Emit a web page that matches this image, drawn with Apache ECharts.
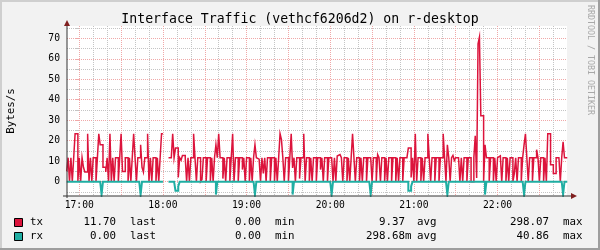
<!DOCTYPE html>
<html><head><meta charset="utf-8">
<script src="https://cdn.jsdelivr.net/npm/echarts@6/dist/echarts.min.js"></script>
<style>html,body{margin:0;padding:0;background:#f2f2f2}#c{width:600px;height:250px}</style>
</head><body><div id="c"></div>
<script>
// ---------- data ----------
const titleText = 'Interface Traffic (vethcf6206d2) on r-desktop';
const yAxisName = 'Bytes/s';
const watermark = 'RRDTOOL / TOBI OETIKER';
const xTickMinutes = [0, 60, 120, 180, 240, 300];           // minutes after 17:00
const xTickLabels = ['17:00', '18:00', '19:00', '20:00', '21:00', '22:00'];
const yTickValues = [0, 10, 20, 30, 40, 50, 60, 70];
const xRange = [-8.8, 349.8];   // minutes after 17:00
const yRange = [-7, 76];
const startMinute = -9;         // first 1-minute sample, minutes after 17:00
const tx = [
  5, 11.7, 0, 11.7, 0, 11.7, 23.4, 23.4, 0, 11.7,
  0, 11.7, 7, 4.7, 4.7, 23.4, 0, 11.7, 0, 11.7,
  11.7, 0, 11.7, 23.4, 18, 18, 7, 7, 4.7, 11.7,
  0, 23.4, 0, 11.7, 0, 11.7, 11.7, 0, 11.7, 23.4,
  5, 5, 11.7, 11.7, 0, 11.7, 0, 11.7, 23.4, 11.7,
  0, 11.7, 11.7, 18, 7, 4.7, 11.7, 11.7, 23.4, 0,
  11.7, 0, 11.7, 11.7, 0, 11.7, 0, 11.7, 23.4, null,
  null, null, null, 11.7, 11.7, 11.7, 23.4, 11.7, 16.4, 16.4,
  2, 11.7, 10.5, 12.8, 12.8, 11.7, 0, 11.7, 0, 11.7,
  11.7, 23.4, 11.7, 0, 11.7, 11.7, 0, 1, 11.7, 11.7,
  0, 11.7, 11.7, 0, 11.7, 0, 11.7, 18, 11.7, 23.4,
  11.7, 11.7, 1.5, 11.7, 0, 11.7, 11.7, 0, 11.7, 23.4,
  0, 11.7, 11.7, 0, 11.7, 11.7, 5.9, 11.7, 0, 11.7,
  11.7, 0, 11.7, 0, 11.7, 18, 11.7, 11, 11.7, 0,
  11.7, 4, 11.7, 0, 11.7, 11.7, 0, 11.7, 11.7, 0,
  11.7, 0, 11.7, 23.4, 20.5, 11.7, 0, 11.7, 11.7, 0,
  11.7, 23.4, 6.7, 11.7, 0, 11.7, 11.7, 1.5, 11.7, 11.7,
  23.4, 0, 11.7, 11.7, 0, 11.7, 0, 11.7, 11.7, 0,
  11.7, 11.7, 5.9, 11.7, 0, 11.7, 11.7, 0, 11.7, 11.7,
  11.7, 0, 11.7, 0, 12.5, 13.2, 12.5, 11.7, 0, 11.7,
  11.7, 0, 11.7, 0, 11.7, 23.4, 11.7, 0, 11.7, 11.7,
  0, 11.7, 0, 11.7, 11.7, 0, 11.7, 11.7, 11.7, 0,
  11.7, 11.7, 0, 13.2, 11.7, 0, 11.7, 11.7, 0, 11.7,
  0, 11.7, 11.7, 0, 11.7, 11.7, 0, 11.7, 0, 11.7,
  11.7, 0, 11.7, 11.7, 11.7, 16.4, 16.4, 2, 11.7, 0,
  23.4, 0, 11.7, 11.7, 0, 11.7, 0, 11.7, 11.7, 23.4,
  11.7, 0, 11.7, 11.7, 0, 11.7, 11.7, 0, 11.7, 11.7,
  23.4, 11.7, 0, 18, 11.7, 0, 11.7, 12.8, 10.4, 11.7,
  11.7, 11.7, 0, 11.7, 0, 11.7, 11.7, 0, 11.7, 11.7,
  0, 0, 11.7, 22.4, 1.8, 67.3, 70.6, 32.2, 32.2, 0,
  18, 11.7, 11.7, 0, 11.7, 11.7, 0, 11.7, 0, 11.7,
  12.6, 11.7, 0, 11.7, 11.7, 0, 11.7, 0, 11.7, 11.7,
  0, 3.9, 11.7, 0, 11.7, 11.7, 0, 11.7, 18, 23.4,
  11.7, 0, 11.7, 11.7, 0, 11.7, 11.7, 15.6, 11.7, 0,
  11.7, 11.7, 0, 11.7, 0, 23.4, 23.4, 8.3, 8.3, 4,
  4, 11.7, 11.7, 11.7, 0, 11.7, 19.5, 11.7, 11.7
];
const rx = [
  0, 0, 0, 0, 0, 0, 0, 0, 0, 0,
  0, 0, 0, 0, 0, 0, 0, 0, 0, 0,
  0, 0, 0, 0, 0, -6.3, 0, 0, 0, 0,
  0, 0, 0, 0, 0, 0, 0, 0, 0, 0,
  0, 0, 0, 0, 0, 0, 0, 0, 0, 0,
  0, 0, 0, -6.3, 0, 0, 0, 0, 0, 0,
  0, 0, 0, 0, 0, 0, 0, 0, 0, null,
  null, null, null, 0, 0, 0, 0, 0, -4.4, -4.4,
  -2.3, 0, 0, 0, 0, 0, 0, 0, 0, 0,
  0, 0, 0, 0, 0, 0, 0, 0, 0, 0,
  0, 0, 0, 0, 0, 0, 0, -6.3, 0, 0,
  0, 0, 0, 0, 0, 0, 0, 0, 0, 0,
  0, 0, 0, 0, 0, 0, 0, 0, 0, 0,
  0, 0, 0, 0, 0, -6.3, 0, 0, 0, 0,
  0, 0, 0, 0, 0, 0, 0, 0, 0, 0,
  0, 0, 0, 0, 0, 0, 0, 0, 0, 0,
  0, 0, -6.3, 0, 0, 0, 0, 0, 0, 0,
  0, 0, 0, 0, 0, 0, 0, 0, 0, 0,
  0, 0, 0, 0, 0, 0, 0, 0, 0, 0,
  -6.3, 0, 0, 0, 0, 0, 0, 0, 0, 0,
  0, 0, 0, 0, 0, 0, 0, 0, 0, 0,
  0, 0, 0, 0, 0, 0, 0, 0, -6.3, 0,
  0, 0, 0, 0, 0, 0, 0, 0, 0, 0,
  0, 0, 0, 0, 0, 0, 0, 0, 0, 0,
  0, 0, 0, 0, 0, -4.4, -4.4, -2.3, 0, 0,
  0, 0, 0, 0, 0, 0, 0, 0, 0, 0,
  0, 0, 0, 0, 0, 0, 0, 0, 0, 0,
  0, 0, 0, -6.3, 0, 0, 0, 0, 0, 0,
  0, 0, 0, 0, 0, 0, 0, 0, 0, 0,
  0, 0, 0, 0, 0, 0, 0, 0, 0, 0,
  -6.3, 0, 0, 0, 0, 0, 0, 0, 0, 0,
  0, 0, 0, 0, 0, 0, 0, 0, 0, 0,
  0, 0, 0, 0, 0, 0, 0, 0, -6.3, 0,
  0, 0, 0, 0, 0, 0, 0, 0, 0, 0,
  0, 0, 0, 0, 0, 0, 0, 0, 0, 0,
  0, 0, 0, 0, 0, 0, -6.3, 0, 0
];
const legendNames = ['tx', 'rx'];
const legendLast = ['11.70', '0.00'];
const legendMin = ['0.00', '0.00'];
const legendAvg = ['9.37', '298.68m'];
const legendMax = ['298.07', '40.86'];

// ---------- style ----------
const MONO = "'DejaVu Sans Mono', monospace";
const TX_COLOR = '#dc143c', RX_COLOR = '#20aea3';
const MINOR_GRID = '#c4c4c4', MAJOR_GRID = '#f0a8a8';
const AXIS_COLOR = '#333333', ARROW_COLOR = '#801f1f';

// each 1-minute sample holds its value until the next minute (RRD style steps)
function buildStep(values) {
  const pts = [];
  for (let i = 0; i < values.length; i++) {
    const m = startMinute + i, v = values[i];
    if (v === null) { pts.push([m, null]); continue; }
    pts.push([m, v], [m + 1, v]);
  }
  return pts;
}
const minorX = [], majorX = [], minorY = [], majorY = [];
for (let m = 0; m <= xRange[1]; m += 10) (m % 30 ? minorX : majorX).push(m);
for (let v = -5; v <= yRange[1]; v += 5) (v % 10 ? minorY : majorY).push(v);

const gridLine = (c) => ({ show: true, lineStyle: { color: c, width: 1, type: [1, 1] } });
const xBase = { type: 'value', min: xRange[0], max: xRange[1], position: 'bottom',
  axisLine: { show: false }, axisLabel: { show: false } };
const yBase = { type: 'value', min: yRange[0], max: yRange[1], position: 'left',
  axisLine: { show: false } };

const chart = echarts.init(document.getElementById('c'), null, { renderer: 'canvas' });
chart.setOption({
  animation: false,
  backgroundColor: '#f2f2f2',
  grid: { left: 67, right: 33, top: 26, bottom: 54, show: true, backgroundColor: '#ffffff',
          borderWidth: 0, containLabel: false, outerBoundsMode: 'none' },
  xAxis: [
    Object.assign({}, xBase, {
      axisTick: { show: false, customValues: xTickMinutes },
      axisLabel: { show: true, customValues: xTickMinutes, margin: 4, color: '#000',
        fontFamily: MONO, fontSize: 9.7,
        formatter: v => xTickLabels[xTickMinutes.indexOf(v)] },
      splitLine: { show: false } }),
    Object.assign({}, xBase, { axisTick: { show: false, customValues: minorX }, splitLine: gridLine(MINOR_GRID) }),
    Object.assign({}, xBase, { axisTick: { show: false, customValues: majorX }, splitLine: gridLine(MAJOR_GRID) })
  ],
  yAxis: [
    Object.assign({}, yBase, {
      axisTick: { show: true, length: 4, customValues: majorY, lineStyle: { color: MAJOR_GRID } },
      axisLabel: { show: true, customValues: yTickValues, margin: 7, color: '#000', fontFamily: MONO, fontSize: 9.7 },
      splitLine: gridLine(MAJOR_GRID) }),
    Object.assign({}, yBase, {
      axisTick: { show: true, length: 4, customValues: minorY, lineStyle: { color: MINOR_GRID } },
      axisLabel: { show: false }, splitLine: gridLine(MINOR_GRID) })
  ],
  series: [
    { name: 'tx', type: 'line', data: buildStep(tx), symbol: 'none', showSymbol: false,
      connectNulls: false, lineStyle: { color: TX_COLOR, width: 1.5, join: 'miter' }, z: 2 },
    { name: 'rx', type: 'line', data: buildStep(rx), symbol: 'none', showSymbol: false,
      connectNulls: false, lineStyle: { color: RX_COLOR, width: 2, join: 'miter' }, z: 3 }
  ]
});

// ---------- decorations derived from the axes ----------
const p0 = chart.convertToPixel({ xAxisIndex: 0, yAxisIndex: 0 }, [xRange[0], yRange[0]]);
const p1 = chart.convertToPixel({ xAxisIndex: 0, yAxisIndex: 0 }, [xRange[1], yRange[1]]);
const ax = Math.round(p0[0]), ay = Math.round(p0[1]), rxp = Math.round(p1[0]), ty = Math.round(p1[1]);
const txt = (text, x, y, size, align, color, extra) => Object.assign({
  type: 'text', x: x, y: y, z: 100,
  style: { text: text, font: size + 'px ' + MONO, fill: color || '#000',
           align: align, textAlign: align, verticalAlign: 'middle', textVerticalAlign: 'middle' }
}, extra || {});
const g = [
  { type: 'rect', shape: { x: 0, y: 0, width: 600, height: 2 }, style: { fill: '#cfcfcf' }, z: 100 },
  { type: 'rect', shape: { x: 0, y: 0, width: 2, height: 250 }, style: { fill: '#cfcfcf' }, z: 100 },
  { type: 'rect', shape: { x: 0, y: 248, width: 600, height: 2 }, style: { fill: '#9e9e9e' }, z: 100 },
  { type: 'rect', shape: { x: 598, y: 0, width: 2, height: 250 }, style: { fill: '#9e9e9e' }, z: 100 },
  { type: 'line', shape: { x1: ax, y1: ay + 2, x2: ax, y2: ty }, style: { stroke: AXIS_COLOR, lineWidth: 1 }, z: 100 },
  { type: 'line', shape: { x1: ax - 4, y1: ay, x2: rxp + 4, y2: ay }, style: { stroke: AXIS_COLOR, lineWidth: 1 }, z: 100 },
  { type: 'polygon', shape: { points: [[ax - 3, ty], [ax + 3, ty], [ax, ty - 6]] }, style: { fill: ARROW_COLOR }, z: 101 },
  { type: 'polygon', shape: { points: [[rxp + 4, ay - 3], [rxp + 4, ay + 3], [rxp + 10, ay]] }, style: { fill: ARROW_COLOR }, z: 101 },
  txt(titleText, 300, 19.5, 13.2, 'center'),
  txt(yAxisName, 11, (ay + ty) / 2, 10.8, 'center', '#000', { rotation: Math.PI / 2 }),
  txt(watermark, 590, 60, 8.3, 'center', '#a8a8a8', { rotation: -Math.PI / 2 })
];
const rowY = [222.5, 236.5], colors = [TX_COLOR, RX_COLOR];
for (let i = 0; i < 2; i++) {
  const y = rowY[i];
  g.push({ type: 'rect', shape: { x: 14.5, y: y - 4, width: 8, height: 8 },
           style: { fill: colors[i], stroke: '#000', lineWidth: 1 }, z: 100 });
  g.push(txt(legendNames[i], 30, y, 10.8, 'left'));
  g.push(txt(legendLast[i], 116, y, 10.8, 'right'));
  g.push(txt('last', 130, y, 10.8, 'left'));
  g.push(txt(legendMin[i], 261, y, 10.8, 'right'));
  g.push(txt('min', 275, y, 10.8, 'left'));
  g.push(txt(legendAvg[i], legendAvg[i].endsWith('m') ? 411.5 : 405, y, 10.8, 'right'));
  g.push(txt('avg', 417, y, 10.8, 'left'));
  g.push(txt(legendMax[i], 549, y, 10.8, 'right'));
  g.push(txt('max', 563, y, 10.8, 'left'));
}
chart.setOption({ graphic: g });
</script></body></html>
